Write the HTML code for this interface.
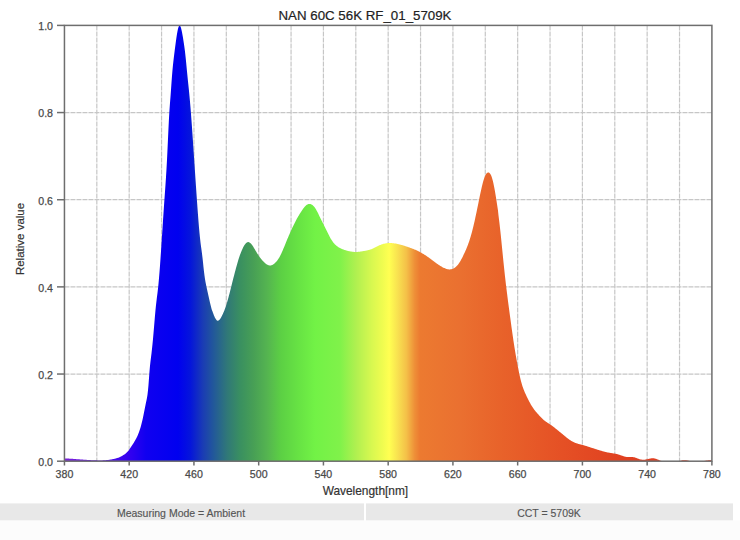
<!DOCTYPE html>
<html><head><meta charset="utf-8">
<style>
html,body{margin:0;padding:0;width:740px;height:540px;overflow:hidden;background:#ffffff;}
svg{position:absolute;left:0;top:0;}
text{font-family:"Liberation Sans",sans-serif;}
</style></head><body>
<svg width="740" height="540" viewBox="0 0 740 540">
<defs><linearGradient id="sp" x1="64.45" y1="0" x2="711.9" y2="0" gradientUnits="userSpaceOnUse">
<stop offset="0.0001" stop-color="#7a22d8"/>
<stop offset="0.0549" stop-color="#5a10e8"/>
<stop offset="0.1028" stop-color="#3000f0"/>
<stop offset="0.1260" stop-color="#1000f0"/>
<stop offset="0.1754" stop-color="#0000f0"/>
<stop offset="0.1939" stop-color="#0414dc"/>
<stop offset="0.2140" stop-color="#1a3cb4"/>
<stop offset="0.2302" stop-color="#22589a"/>
<stop offset="0.2511" stop-color="#307878"/>
<stop offset="0.2719" stop-color="#3a9060"/>
<stop offset="0.2928" stop-color="#48a055"/>
<stop offset="0.3138" stop-color="#55b550"/>
<stop offset="0.3345" stop-color="#5cd044"/>
<stop offset="0.3638" stop-color="#68e444"/>
<stop offset="0.3870" stop-color="#72f246"/>
<stop offset="0.4256" stop-color="#80f24a"/>
<stop offset="0.4503" stop-color="#b0f050"/>
<stop offset="0.4750" stop-color="#d8f850"/>
<stop offset="0.4920" stop-color="#f0fc50"/>
<stop offset="0.5016" stop-color="#ffff52"/>
<stop offset="0.5152" stop-color="#f8e050"/>
<stop offset="0.5283" stop-color="#f4c048"/>
<stop offset="0.5407" stop-color="#ee9038"/>
<stop offset="0.5492" stop-color="#ec7a30"/>
<stop offset="0.6109" stop-color="#ea7030"/>
<stop offset="0.6758" stop-color="#e8622a"/>
<stop offset="0.7700" stop-color="#e55025"/>
<stop offset="0.8627" stop-color="#e04020"/>
<stop offset="0.9998" stop-color="#dd3a20"/>
</linearGradient></defs>
<rect x="0" y="520.3" width="740" height="19.7" fill="#fcfcfc"/>
<g stroke="#c6c6c6" stroke-width="1.2" stroke-dasharray="5,1">
<line x1="96.82" y1="25.40" x2="96.82" y2="461.20"/>
<line x1="129.19" y1="25.40" x2="129.19" y2="461.20"/>
<line x1="161.57" y1="25.40" x2="161.57" y2="461.20"/>
<line x1="193.94" y1="25.40" x2="193.94" y2="461.20"/>
<line x1="226.31" y1="25.40" x2="226.31" y2="461.20"/>
<line x1="258.69" y1="25.40" x2="258.69" y2="461.20"/>
<line x1="291.06" y1="25.40" x2="291.06" y2="461.20"/>
<line x1="323.43" y1="25.40" x2="323.43" y2="461.20"/>
<line x1="355.80" y1="25.40" x2="355.80" y2="461.20"/>
<line x1="388.17" y1="25.40" x2="388.17" y2="461.20"/>
<line x1="420.55" y1="25.40" x2="420.55" y2="461.20"/>
<line x1="452.92" y1="25.40" x2="452.92" y2="461.20"/>
<line x1="485.29" y1="25.40" x2="485.29" y2="461.20"/>
<line x1="517.66" y1="25.40" x2="517.66" y2="461.20"/>
<line x1="550.04" y1="25.40" x2="550.04" y2="461.20"/>
<line x1="582.41" y1="25.40" x2="582.41" y2="461.20"/>
<line x1="614.78" y1="25.40" x2="614.78" y2="461.20"/>
<line x1="647.15" y1="25.40" x2="647.15" y2="461.20"/>
<line x1="679.53" y1="25.40" x2="679.53" y2="461.20"/>
<line x1="64.45" y1="374.04" x2="711.90" y2="374.04"/>
<line x1="64.45" y1="286.88" x2="711.90" y2="286.88"/>
<line x1="64.45" y1="199.72" x2="711.90" y2="199.72"/>
<line x1="64.45" y1="112.56" x2="711.90" y2="112.56"/>
</g>
<path d="M64.5,461.2 L64.45,458.45 L64.95,458.46 L65.45,458.47 L65.95,458.49 L66.45,458.50 L66.95,458.52 L67.45,458.54 L67.95,458.56 L68.45,458.59 L68.95,458.62 L69.45,458.64 L69.95,458.67 L70.45,458.70 L70.95,458.74 L71.45,458.77 L71.95,458.80 L72.45,458.84 L72.95,458.87 L73.45,458.90 L73.95,458.94 L74.45,458.98 L74.95,459.01 L75.45,459.05 L75.95,459.09 L76.45,459.13 L76.95,459.16 L77.45,459.20 L77.95,459.24 L78.45,459.28 L78.95,459.32 L79.45,459.36 L79.95,459.40 L80.45,459.43 L80.95,459.47 L81.45,459.51 L81.95,459.55 L82.45,459.59 L82.95,459.62 L83.45,459.66 L83.95,459.70 L84.45,459.74 L84.95,459.77 L85.45,459.81 L85.95,459.84 L86.45,459.87 L86.95,459.91 L87.45,459.94 L87.95,459.97 L88.45,460.00 L88.95,460.03 L89.45,460.06 L89.95,460.09 L90.45,460.12 L90.95,460.14 L91.45,460.17 L91.95,460.19 L92.45,460.22 L92.95,460.24 L93.45,460.26 L93.95,460.28 L94.45,460.30 L94.95,460.31 L95.45,460.33 L95.95,460.34 L96.45,460.36 L96.95,460.37 L97.45,460.38 L97.95,460.39 L98.45,460.40 L98.95,460.40 L99.45,460.41 L99.95,460.41 L100.45,460.41 L100.95,460.40 L101.45,460.40 L101.95,460.39 L102.45,460.38 L102.95,460.36 L103.45,460.34 L103.95,460.31 L104.45,460.29 L104.95,460.25 L105.45,460.21 L105.95,460.17 L106.45,460.12 L106.95,460.07 L107.45,460.01 L107.95,459.95 L108.45,459.89 L108.95,459.81 L109.45,459.74 L109.95,459.66 L110.45,459.58 L110.95,459.49 L111.45,459.40 L111.95,459.31 L112.45,459.21 L112.95,459.11 L113.45,459.00 L113.95,458.89 L114.45,458.77 L114.95,458.65 L115.45,458.52 L115.95,458.38 L116.45,458.24 L116.95,458.08 L117.45,457.92 L117.95,457.74 L118.45,457.64 L118.95,457.44 L119.45,457.23 L119.95,457.01 L120.45,456.77 L120.95,456.52 L121.45,456.25 L121.95,455.97 L122.45,455.68 L122.95,455.37 L123.45,455.06 L123.95,454.73 L124.45,454.40 L124.95,454.05 L125.45,453.68 L125.95,453.28 L126.45,452.85 L126.95,452.37 L127.45,451.85 L127.95,451.27 L128.45,450.64 L128.95,449.97 L129.45,449.27 L129.95,448.54 L130.45,447.79 L130.95,447.03 L131.45,446.27 L131.95,445.51 L132.45,444.75 L132.95,443.97 L133.45,443.19 L133.95,442.40 L134.45,441.58 L134.95,440.74 L135.45,439.86 L135.95,438.95 L136.45,437.99 L136.95,436.97 L137.45,435.89 L137.95,434.73 L138.45,433.50 L138.95,432.18 L139.45,430.76 L139.95,429.26 L140.45,427.65 L140.95,425.93 L141.45,424.09 L141.95,422.12 L142.45,419.99 L142.95,417.71 L143.45,415.29 L143.95,412.78 L144.45,410.23 L144.95,407.69 L145.45,405.21 L145.95,402.85 L146.45,400.55 L146.95,398.04 L147.45,394.94 L147.95,390.85 L148.45,385.43 L148.95,378.85 L149.45,372.12 L149.95,366.34 L150.45,361.70 L150.95,357.69 L151.45,353.71 L151.95,349.37 L152.45,344.59 L152.95,339.38 L153.45,333.77 L153.95,327.90 L154.45,321.95 L154.95,316.12 L155.45,310.60 L155.95,305.58 L156.45,301.14 L156.95,297.11 L157.45,293.17 L157.95,289.00 L158.45,284.28 L158.95,278.87 L159.45,272.82 L159.95,266.23 L160.45,259.23 L160.95,251.92 L161.45,244.39 L161.95,236.72 L162.45,229.00 L162.95,221.30 L163.45,213.71 L163.95,206.30 L164.45,199.15 L164.95,192.19 L165.45,185.21 L165.95,177.86 L166.45,169.81 L166.95,160.75 L167.45,150.59 L167.95,139.76 L168.45,128.99 L168.95,119.04 L169.45,110.56 L169.95,103.54 L170.45,97.14 L170.95,90.44 L171.45,83.32 L171.95,76.43 L172.45,70.40 L172.95,65.28 L173.45,60.78 L173.95,56.60 L174.45,52.54 L174.95,48.56 L175.45,44.70 L175.95,41.01 L176.45,37.53 L176.95,34.33 L177.45,31.49 L177.95,29.10 L178.45,27.23 L178.95,25.97 L179.45,25.41 L179.95,25.57 L180.45,26.40 L180.95,27.82 L181.45,29.74 L181.95,32.07 L182.45,34.73 L182.95,37.62 L183.45,40.69 L183.95,43.95 L184.45,47.49 L184.95,51.37 L185.45,55.70 L185.95,60.50 L186.45,65.65 L186.95,70.91 L187.45,76.05 L187.95,80.94 L188.45,85.70 L188.95,90.54 L189.45,95.64 L189.95,101.14 L190.45,107.03 L190.95,113.31 L191.45,119.92 L191.95,126.83 L192.45,133.97 L192.95,141.30 L193.45,148.74 L193.95,156.24 L194.45,163.75 L194.95,171.23 L195.45,178.67 L195.95,186.03 L196.45,193.31 L196.95,200.49 L197.45,207.52 L197.95,214.33 L198.45,220.83 L198.95,226.94 L199.45,232.55 L199.95,237.60 L200.45,242.02 L200.95,245.92 L201.45,249.56 L201.95,253.26 L202.45,257.30 L202.95,261.84 L203.45,266.65 L203.95,271.21 L204.45,275.20 L204.95,278.65 L205.45,281.66 L205.95,284.36 L206.45,286.82 L206.95,289.12 L207.45,291.32 L207.95,293.48 L208.45,295.67 L208.95,297.91 L209.45,300.16 L209.95,302.38 L210.45,304.53 L210.95,306.57 L211.45,308.48 L211.95,310.24 L212.45,311.14 L212.95,312.67 L213.45,314.09 L213.95,315.40 L214.45,316.58 L214.95,317.64 L215.45,318.56 L215.95,319.33 L216.45,319.95 L216.95,320.39 L217.45,320.64 L217.95,320.71 L218.45,320.59 L218.95,320.30 L219.45,319.85 L219.95,319.26 L220.45,318.54 L220.95,317.73 L221.45,316.83 L221.95,315.87 L222.45,314.84 L222.95,313.75 L223.45,312.60 L223.95,311.40 L224.45,310.13 L224.95,308.81 L225.45,307.41 L225.95,305.94 L226.45,304.40 L226.95,302.79 L227.45,301.10 L227.95,299.33 L228.45,297.50 L228.95,295.60 L229.45,293.66 L229.95,291.69 L230.45,289.69 L230.95,287.69 L231.45,285.70 L231.95,283.72 L232.45,281.75 L232.95,279.81 L233.45,277.87 L233.95,275.95 L234.45,274.02 L234.95,272.11 L235.45,270.20 L235.95,268.32 L236.45,266.46 L236.95,264.64 L237.45,262.88 L237.95,261.19 L238.45,259.56 L238.95,258.00 L239.45,256.51 L239.95,255.09 L240.45,253.72 L240.95,252.42 L241.45,251.18 L241.95,250.00 L242.45,248.88 L242.95,247.82 L243.45,246.84 L243.95,245.93 L244.45,245.11 L244.95,244.38 L245.45,243.74 L245.95,243.21 L246.45,242.77 L246.95,242.45 L247.45,242.23 L247.95,242.12 L248.45,242.12 L248.95,242.22 L249.45,242.43 L249.95,242.73 L250.45,243.13 L250.95,243.62 L251.45,244.19 L251.95,244.83 L252.45,245.53 L252.95,246.28 L253.45,247.08 L253.95,247.90 L254.45,248.74 L254.95,249.59 L255.45,250.44 L255.95,251.29 L256.45,252.12 L256.95,252.94 L257.45,253.74 L257.95,254.52 L258.45,255.29 L258.95,256.03 L259.45,256.74 L259.95,257.44 L260.45,258.11 L260.95,258.75 L261.45,259.37 L261.95,259.97 L262.45,260.54 L262.95,261.09 L263.45,261.61 L263.95,262.10 L264.45,262.56 L264.95,263.00 L265.45,263.41 L265.95,263.79 L266.45,264.14 L266.95,264.46 L267.45,264.74 L267.95,264.99 L268.45,265.19 L268.95,265.34 L269.45,265.45 L269.95,265.49 L270.45,265.48 L270.95,265.42 L271.45,265.29 L271.95,265.12 L272.45,264.89 L272.95,264.61 L273.45,264.29 L273.95,263.92 L274.45,263.52 L274.95,263.09 L275.45,262.61 L275.95,262.09 L276.45,261.54 L276.95,260.93 L277.45,260.28 L277.95,259.58 L278.45,258.82 L278.95,258.01 L279.45,257.14 L279.95,256.22 L280.45,255.24 L280.95,254.22 L281.45,253.16 L281.95,252.06 L282.45,250.93 L282.95,249.77 L283.45,248.59 L283.95,247.39 L284.45,246.18 L284.95,244.95 L285.45,243.73 L285.95,242.50 L286.45,241.27 L286.95,240.06 L287.45,238.85 L287.95,237.65 L288.45,236.47 L288.95,235.30 L289.45,234.15 L289.95,233.02 L290.45,231.89 L290.95,230.79 L291.45,229.69 L291.95,228.61 L292.45,227.54 L292.95,226.49 L293.45,225.45 L293.95,224.42 L294.45,223.40 L294.95,222.41 L295.45,221.43 L295.95,220.47 L296.45,219.54 L296.95,218.62 L297.45,217.73 L297.95,216.85 L298.45,216.00 L298.95,215.17 L299.45,214.35 L299.95,213.55 L300.45,212.76 L300.95,211.99 L301.45,211.23 L301.95,210.48 L302.45,209.75 L302.95,209.04 L303.45,208.35 L303.95,207.69 L304.45,207.07 L304.95,206.49 L305.45,205.96 L305.95,205.49 L306.45,205.08 L306.95,204.73 L307.45,204.44 L307.95,204.22 L308.45,204.06 L308.95,203.97 L309.45,203.93 L309.95,203.96 L310.45,204.04 L310.95,204.19 L311.45,204.39 L311.95,204.67 L312.45,205.01 L312.95,205.42 L313.45,205.90 L313.95,206.45 L314.45,207.08 L314.95,207.77 L315.45,208.53 L315.95,209.35 L316.45,210.23 L316.95,211.15 L317.45,212.10 L317.95,213.09 L318.45,214.10 L318.95,215.13 L319.45,216.16 L319.95,217.19 L320.45,218.22 L320.95,219.25 L321.45,220.26 L321.95,221.27 L322.45,222.28 L322.95,223.27 L323.45,224.26 L323.95,225.26 L324.45,226.25 L324.95,227.25 L325.45,228.26 L325.95,229.27 L326.45,230.28 L326.95,231.30 L327.45,232.32 L327.95,233.33 L328.45,234.33 L328.95,235.32 L329.45,236.29 L329.95,237.23 L330.45,238.14 L330.95,239.01 L331.45,239.84 L331.95,240.62 L332.45,241.36 L332.95,242.05 L333.45,242.70 L333.95,243.30 L334.45,243.86 L334.95,244.38 L335.45,244.86 L335.95,245.31 L336.45,245.73 L336.95,246.12 L337.45,246.48 L337.95,246.82 L338.45,247.14 L338.95,247.44 L339.45,247.72 L339.95,247.99 L340.45,248.24 L340.95,248.49 L341.45,248.71 L341.95,248.93 L342.45,249.14 L342.95,249.34 L343.45,249.52 L343.95,249.70 L344.45,249.88 L344.95,250.04 L345.45,250.20 L345.95,250.35 L346.45,250.49 L346.95,250.63 L347.45,250.77 L347.95,250.90 L348.45,251.02 L348.95,251.13 L349.45,251.24 L349.95,251.34 L350.45,251.44 L350.95,251.53 L351.45,251.61 L351.95,251.68 L352.45,251.74 L352.95,251.80 L353.45,251.84 L353.95,251.88 L354.45,251.91 L354.95,251.93 L355.45,251.94 L355.95,251.94 L356.45,251.93 L356.95,251.91 L357.45,251.88 L357.95,251.85 L358.45,251.80 L358.95,251.75 L359.45,251.70 L359.95,251.64 L360.45,251.57 L360.95,251.50 L361.45,251.42 L361.95,251.34 L362.45,251.26 L362.95,251.18 L363.45,251.09 L363.95,251.00 L364.45,250.91 L364.95,250.82 L365.45,250.73 L365.95,250.63 L366.45,250.53 L366.95,250.43 L367.45,250.31 L367.95,250.20 L368.45,250.07 L368.95,249.94 L369.45,249.80 L369.95,249.65 L370.45,249.49 L370.95,249.32 L371.45,249.13 L371.95,248.94 L372.45,248.73 L372.95,248.52 L373.45,248.29 L373.95,248.05 L374.45,247.81 L374.95,247.56 L375.45,247.31 L375.95,247.05 L376.45,246.79 L376.95,246.53 L377.45,246.28 L377.95,246.03 L378.45,245.78 L378.95,245.55 L379.45,245.32 L379.95,245.10 L380.45,244.89 L380.95,244.69 L381.45,244.50 L381.95,244.32 L382.45,244.16 L382.95,244.01 L383.45,243.87 L383.95,243.74 L384.45,243.63 L384.95,243.52 L385.45,243.43 L385.95,243.34 L386.45,243.27 L386.95,243.21 L387.45,243.16 L387.95,243.12 L388.45,243.08 L388.95,243.06 L389.45,243.05 L389.95,243.04 L390.45,243.05 L390.95,243.06 L391.45,243.09 L391.95,243.12 L392.45,243.15 L392.95,243.20 L393.45,243.25 L393.95,243.31 L394.45,243.38 L394.95,243.45 L395.45,243.53 L395.95,243.62 L396.45,243.71 L396.95,243.81 L397.45,243.91 L397.95,244.02 L398.45,244.14 L398.95,244.25 L399.45,244.38 L399.95,244.51 L400.45,244.64 L400.95,244.77 L401.45,244.91 L401.95,245.06 L402.45,245.20 L402.95,245.35 L403.45,245.51 L403.95,245.66 L404.45,245.82 L404.95,245.98 L405.45,246.15 L405.95,246.31 L406.45,246.48 L406.95,246.65 L407.45,246.82 L407.95,246.99 L408.45,247.17 L408.95,247.34 L409.45,247.52 L409.95,247.70 L410.45,247.88 L410.95,248.07 L411.45,248.25 L411.95,248.44 L412.45,248.63 L412.95,248.83 L413.45,249.03 L413.95,249.23 L414.45,249.44 L414.95,249.65 L415.45,249.86 L415.95,250.08 L416.45,250.31 L416.95,250.54 L417.45,250.77 L417.95,251.01 L418.45,251.26 L418.95,251.51 L419.45,251.76 L419.95,252.03 L420.45,252.29 L420.95,252.57 L421.45,252.85 L421.95,253.13 L422.45,253.42 L422.95,253.72 L423.45,254.02 L423.95,254.33 L424.45,254.65 L424.95,254.96 L425.45,255.29 L425.95,255.62 L426.45,255.96 L426.95,256.30 L427.45,256.65 L427.95,257.00 L428.45,257.35 L428.95,257.71 L429.45,258.08 L429.95,258.45 L430.45,258.82 L430.95,259.19 L431.45,259.57 L431.95,259.95 L432.45,260.33 L432.95,260.70 L433.45,261.08 L433.95,261.46 L434.45,261.83 L434.95,262.20 L435.45,262.57 L435.95,262.94 L436.45,263.30 L436.95,263.65 L437.45,264.01 L437.95,264.35 L438.45,264.69 L438.95,265.02 L439.45,265.35 L439.95,265.67 L440.45,265.98 L440.95,266.28 L441.45,266.58 L441.95,266.86 L442.45,267.14 L442.95,267.40 L443.45,267.65 L443.95,267.90 L444.45,268.12 L444.95,268.34 L445.45,268.54 L445.95,268.72 L446.45,268.89 L446.95,269.03 L447.45,269.15 L447.95,269.26 L448.45,269.33 L448.95,269.39 L449.45,269.41 L449.95,269.41 L450.45,269.37 L450.95,269.31 L451.45,269.21 L451.95,269.09 L452.45,268.92 L452.95,268.73 L453.45,268.50 L453.95,268.23 L454.45,267.92 L454.95,267.58 L455.45,267.20 L455.95,266.78 L456.45,266.31 L456.95,265.80 L457.45,265.25 L457.95,264.65 L458.45,264.00 L458.95,263.30 L459.45,262.55 L459.95,261.75 L460.45,260.90 L460.95,260.02 L461.45,259.09 L461.95,258.13 L462.45,257.15 L462.95,256.13 L463.45,255.10 L463.95,254.05 L464.45,252.99 L464.95,251.90 L465.45,250.79 L465.95,249.66 L466.45,248.49 L466.95,247.28 L467.45,246.03 L467.95,244.72 L468.45,243.35 L468.95,241.92 L469.45,240.42 L469.95,238.86 L470.45,237.22 L470.95,235.52 L471.45,233.74 L471.95,231.89 L472.45,229.97 L472.95,227.98 L473.45,225.92 L473.95,223.81 L474.45,221.63 L474.95,219.39 L475.45,217.11 L475.95,214.78 L476.45,212.42 L476.95,210.03 L477.45,207.62 L477.95,205.20 L478.45,202.73 L478.95,200.26 L479.45,197.80 L479.95,195.36 L480.45,192.97 L480.95,190.65 L481.45,188.40 L481.95,186.24 L482.45,184.20 L482.95,182.29 L483.45,180.52 L483.95,178.91 L484.45,177.46 L484.95,176.19 L485.45,175.11 L485.95,174.22 L486.45,173.53 L486.95,173.02 L487.45,172.69 L487.95,172.51 L488.45,172.49 L488.95,172.62 L489.45,172.92 L489.95,173.42 L490.45,174.13 L490.95,175.07 L491.45,176.26 L491.95,177.70 L492.45,179.39 L492.95,181.33 L493.45,183.50 L493.95,185.90 L494.45,188.52 L494.95,191.33 L495.45,194.28 L495.95,197.36 L496.45,200.50 L496.95,203.70 L497.45,206.94 L497.95,210.27 L498.45,214.99 L498.95,218.93 L499.45,223.07 L499.95,227.44 L500.45,232.01 L500.95,236.76 L501.45,241.66 L501.95,246.66 L502.45,251.70 L502.95,256.72 L503.45,261.68 L503.95,266.55 L504.45,271.29 L504.95,275.88 L505.45,280.33 L505.95,284.63 L506.45,288.80 L506.95,292.85 L507.45,296.80 L507.95,300.67 L508.45,304.48 L508.95,308.24 L509.45,311.97 L509.95,315.67 L510.45,319.36 L510.95,323.02 L511.45,326.66 L511.95,330.25 L512.45,333.79 L512.95,337.27 L513.45,340.66 L513.95,343.96 L514.45,347.17 L514.95,350.28 L515.45,353.30 L515.95,356.24 L516.45,359.10 L516.95,361.88 L517.45,364.59 L517.95,367.23 L518.45,369.78 L518.95,372.24 L519.45,374.60 L519.95,376.84 L520.45,378.96 L520.95,380.94 L521.45,382.80 L521.95,384.53 L522.45,386.13 L522.95,387.61 L523.45,388.99 L523.95,390.28 L524.45,391.50 L524.95,392.66 L525.45,393.77 L525.95,394.85 L526.45,395.91 L526.95,396.96 L527.45,397.98 L527.95,399.00 L528.45,400.00 L528.95,400.98 L529.45,401.93 L529.95,402.87 L530.45,403.77 L530.95,404.65 L531.45,405.49 L531.95,406.30 L532.45,407.07 L532.95,407.82 L533.45,408.53 L533.95,409.22 L534.45,409.88 L534.95,410.52 L535.45,411.14 L535.95,411.75 L536.45,412.34 L536.95,412.92 L537.45,413.50 L537.95,414.06 L538.45,414.62 L538.95,415.18 L539.45,415.72 L539.95,416.26 L540.45,416.79 L540.95,417.31 L541.45,417.82 L541.95,418.31 L542.45,418.79 L542.95,419.25 L543.45,419.70 L543.95,420.13 L544.45,420.54 L544.95,420.93 L545.45,421.31 L545.95,421.67 L546.45,422.02 L546.95,422.36 L547.45,422.69 L547.95,423.01 L548.45,423.33 L548.95,423.65 L549.45,423.98 L549.95,424.31 L550.45,424.65 L550.95,424.99 L551.45,425.35 L551.95,425.71 L552.45,426.07 L552.95,426.45 L553.45,426.83 L553.95,427.21 L554.45,427.60 L554.95,427.99 L555.45,428.39 L555.95,428.79 L556.45,429.19 L556.95,429.59 L557.45,430.00 L557.95,430.40 L558.45,430.81 L558.95,431.22 L559.45,431.63 L559.95,432.04 L560.45,432.45 L560.95,432.86 L561.45,433.28 L561.95,433.70 L562.45,434.11 L562.95,434.53 L563.45,434.95 L563.95,435.37 L564.45,435.78 L564.95,436.20 L565.45,436.61 L565.95,437.01 L566.45,437.41 L566.95,437.81 L567.45,438.20 L567.95,438.57 L568.45,438.94 L568.95,439.30 L569.45,439.65 L569.95,439.99 L570.45,440.32 L570.95,440.63 L571.45,440.94 L571.95,441.23 L572.45,441.50 L572.95,441.77 L573.45,442.02 L573.95,442.26 L574.45,442.48 L574.95,442.70 L575.45,442.90 L575.95,443.09 L576.45,443.26 L576.95,443.43 L577.45,443.59 L577.95,443.74 L578.45,443.89 L578.95,444.02 L579.45,444.16 L579.95,444.29 L580.45,444.42 L580.95,444.54 L581.45,444.67 L581.95,444.80 L582.45,444.93 L582.95,445.06 L583.45,445.20 L583.95,445.34 L584.45,445.48 L584.95,445.63 L585.45,445.77 L585.95,445.93 L586.45,446.08 L586.95,446.24 L587.45,446.40 L587.95,446.56 L588.45,446.72 L588.95,446.89 L589.45,447.05 L589.95,447.22 L590.45,447.38 L590.95,447.55 L591.45,447.71 L591.95,447.88 L592.45,448.04 L592.95,448.21 L593.45,448.37 L593.95,448.53 L594.45,448.69 L594.95,448.85 L595.45,449.01 L595.95,449.17 L596.45,449.32 L596.95,449.48 L597.45,449.63 L597.95,449.79 L598.45,449.94 L598.95,450.10 L599.45,450.25 L599.95,450.40 L600.45,450.55 L600.95,450.70 L601.45,450.84 L601.95,450.99 L602.45,451.13 L602.95,451.28 L603.45,451.42 L603.95,451.55 L604.45,451.68 L604.95,451.81 L605.45,451.94 L605.95,452.06 L606.45,452.18 L606.95,452.29 L607.45,452.40 L607.95,452.50 L608.45,452.60 L608.95,452.69 L609.45,452.77 L609.95,452.85 L610.45,452.93 L610.95,453.01 L611.45,453.08 L611.95,453.15 L612.45,453.23 L612.95,453.30 L613.45,453.38 L613.95,453.46 L614.45,453.55 L614.95,453.64 L615.45,453.74 L615.95,453.85 L616.45,453.96 L616.95,454.09 L617.45,454.22 L617.95,454.35 L618.45,454.50 L618.95,454.65 L619.45,454.81 L619.95,454.98 L620.45,455.15 L620.95,455.32 L621.45,455.50 L621.95,455.68 L622.45,455.85 L622.95,456.03 L623.45,456.20 L623.95,456.36 L624.45,456.51 L624.95,456.65 L625.45,456.77 L625.95,456.87 L626.45,456.96 L626.95,457.02 L627.45,457.07 L627.95,457.09 L628.45,457.10 L628.95,457.09 L629.45,457.08 L629.95,457.06 L630.45,457.04 L630.95,457.02 L631.45,457.01 L631.95,457.02 L632.45,457.04 L632.95,457.08 L633.45,457.15 L633.95,457.24 L634.45,457.35 L634.95,457.49 L635.45,457.65 L635.95,457.82 L636.45,458.01 L636.95,458.20 L637.45,458.40 L637.95,458.59 L638.45,458.78 L638.95,458.96 L639.45,459.13 L639.95,459.27 L640.45,459.40 L640.95,459.51 L641.45,459.60 L641.95,459.67 L642.45,459.71 L642.95,459.74 L643.45,459.74 L643.95,459.72 L644.45,459.69 L644.95,459.63 L645.45,459.56 L645.95,459.47 L646.45,459.37 L646.95,459.27 L647.45,459.15 L647.95,459.03 L648.45,458.90 L648.95,458.78 L649.45,458.66 L649.95,458.56 L650.45,458.46 L650.95,458.38 L651.45,458.32 L651.95,458.28 L652.45,458.27 L652.95,458.27 L653.45,458.31 L653.95,458.36 L654.45,458.45 L654.95,458.55 L655.45,458.68 L655.95,458.83 L656.45,459.01 L656.95,459.19 L657.45,459.39 L657.95,459.61 L658.45,459.82 L658.95,460.04 L659.45,460.26 L659.95,460.46 L660.45,460.66 L660.95,460.84 L661.45,461.00 L661.95,461.14 L662.45,461.20 L662.95,461.20 L663.45,461.20 L663.95,461.20 L664.45,461.20 L664.95,461.20 L665.45,461.20 L665.95,461.20 L666.45,461.20 L666.95,461.20 L667.45,461.20 L667.95,461.20 L668.45,461.20 L668.95,461.20 L669.45,461.20 L669.95,461.20 L670.45,461.20 L670.95,461.20 L671.45,461.20 L671.95,461.20 L672.45,461.20 L672.95,461.20 L673.45,461.20 L673.95,461.20 L674.45,461.20 L674.95,461.20 L675.45,461.20 L675.95,461.20 L676.45,461.20 L676.95,461.20 L677.45,461.20 L677.95,461.19 L678.45,461.14 L678.95,461.08 L679.45,461.00 L679.95,460.91 L680.45,460.81 L680.95,460.69 L681.45,460.58 L681.95,460.47 L682.45,460.37 L682.95,460.28 L683.45,460.20 L683.95,460.15 L684.45,460.13 L684.95,460.13 L685.45,460.16 L685.95,460.22 L686.45,460.29 L686.95,460.38 L687.45,460.48 L687.95,460.59 L688.45,460.70 L688.95,460.80 L689.45,460.90 L689.95,460.98 L690.45,461.05 L690.95,461.11 L691.45,461.15 L691.95,461.19 L692.45,461.20 L692.95,461.20 L693.45,461.20 L693.95,461.20 L694.45,461.20 L694.95,461.20 L695.45,461.20 L695.95,461.20 L696.45,461.20 L696.95,461.20 L697.45,461.20 L697.95,461.20 L698.45,461.20 L698.95,461.20 L699.45,461.20 L699.95,461.20 L700.45,461.19 L700.95,461.18 L701.45,461.16 L701.95,461.13 L702.45,461.10 L702.95,461.06 L703.45,461.00 L703.95,460.95 L704.45,460.88 L704.95,460.81 L705.45,460.74 L705.95,460.66 L706.45,460.58 L706.95,460.51 L707.45,460.45 L707.95,460.39 L708.45,460.35 L708.95,460.31 L709.45,460.29 L709.95,460.27 L710.45,460.27 L710.95,460.27 L711.45,460.28 L711.90,460.29 L711.90,460.29 L711.90,461.20 Z" fill="url(#sp)"/>
<g stroke="#6e6e6e" stroke-width="1.5" fill="none">
<rect x="64.45" y="25.4" width="647.45" height="435.80"/>
</g>
<g stroke="#6e6e6e" stroke-width="1.5">
<line x1="57" y1="461.20" x2="64.45" y2="461.20"/>
<line x1="57" y1="374.04" x2="64.45" y2="374.04"/>
<line x1="57" y1="286.88" x2="64.45" y2="286.88"/>
<line x1="57" y1="199.72" x2="64.45" y2="199.72"/>
<line x1="57" y1="112.56" x2="64.45" y2="112.56"/>
<line x1="57" y1="25.40" x2="64.45" y2="25.40"/>
<line x1="64.45" y1="461.20" x2="64.45" y2="465.5"/>
<line x1="129.19" y1="461.20" x2="129.19" y2="465.5"/>
<line x1="193.94" y1="461.20" x2="193.94" y2="465.5"/>
<line x1="258.69" y1="461.20" x2="258.69" y2="465.5"/>
<line x1="323.43" y1="461.20" x2="323.43" y2="465.5"/>
<line x1="388.17" y1="461.20" x2="388.17" y2="465.5"/>
<line x1="452.92" y1="461.20" x2="452.92" y2="465.5"/>
<line x1="517.66" y1="461.20" x2="517.66" y2="465.5"/>
<line x1="582.41" y1="461.20" x2="582.41" y2="465.5"/>
<line x1="647.15" y1="461.20" x2="647.15" y2="465.5"/>
<line x1="711.90" y1="461.20" x2="711.90" y2="465.5"/>
</g>
<g font-size="10.6" fill="#4a4a4a" stroke="#4a4a4a" stroke-width="0.25">
<text x="53" y="466.10" text-anchor="end">0.0</text>
<text x="53" y="378.94" text-anchor="end">0.2</text>
<text x="53" y="291.78" text-anchor="end">0.4</text>
<text x="53" y="204.62" text-anchor="end">0.6</text>
<text x="53" y="117.46" text-anchor="end">0.8</text>
<text x="53" y="30.30" text-anchor="end">1.0</text>
<text x="64.45" y="478.1" text-anchor="middle">380</text>
<text x="129.19" y="478.1" text-anchor="middle">420</text>
<text x="193.94" y="478.1" text-anchor="middle">460</text>
<text x="258.69" y="478.1" text-anchor="middle">500</text>
<text x="323.43" y="478.1" text-anchor="middle">540</text>
<text x="388.17" y="478.1" text-anchor="middle">580</text>
<text x="452.92" y="478.1" text-anchor="middle">620</text>
<text x="517.66" y="478.1" text-anchor="middle">660</text>
<text x="582.41" y="478.1" text-anchor="middle">700</text>
<text x="647.15" y="478.1" text-anchor="middle">740</text>
<text x="711.90" y="478.1" text-anchor="middle">780</text>
</g>
<text x="365" y="20.2" font-size="13.3" fill="#222" stroke="#222" stroke-width="0.2" text-anchor="middle">NAN 60C 56K RF_01_5709K</text>
<text x="365.4" y="494.6" font-size="11.9" fill="#333" stroke="#333" stroke-width="0.2" text-anchor="middle">Wavelength[nm]</text>
<text transform="translate(23.5,239) rotate(-90)" font-size="11.5" fill="#333" stroke="#333" stroke-width="0.2" text-anchor="middle">Relative value</text>
<rect x="0" y="503.4" width="364" height="16.9" fill="#e8e8e8"/>
<rect x="366" y="503.4" width="367" height="16.9" fill="#e8e8e8"/>
<text x="181" y="517.2" font-size="10.5" fill="#555" stroke="#555" stroke-width="0.15" text-anchor="middle">Measuring Mode = Ambient</text>
<text x="549" y="517.2" font-size="10.5" fill="#555" stroke="#555" stroke-width="0.15" text-anchor="middle">CCT = 5709K</text>
</svg>
</body></html>
